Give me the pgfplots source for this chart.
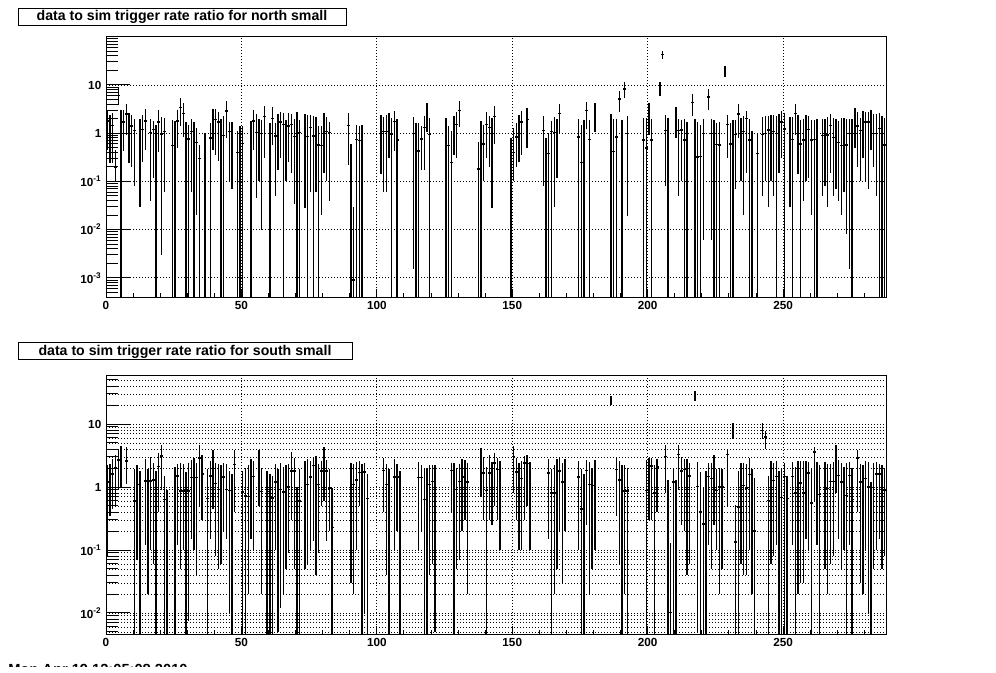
\documentclass[border=0pt]{standalone}
\usepackage{pgfplots}
\usepackage{pgfplotstable}
\pgfplotsset{compat=1.18}
\usepackage{fontspec}
\setmainfont{Liberation Sans}

\pgfplotstableread{
x y l h
0.5 1.8 0.45 3.0
1.5 1.3 0.24 2.4
2.5 1.45 0.24 2.6
3.5 0.2 0.1 0.45
4.5 6.1 3.8 9.0
5.5 1.0 1e-6 3.0
6.5 1.7 0.42 3.0
7.5 2.5 0.9 4.0
8.5 1.45 0.24 2.6
9.5 1.4 0.2 2.4
10.5 1.15 0.08 2.0
12.5 1.0 0.03 2.0
13.5 1.2 0.25 2.4
14.5 1.8 0.45 3.2
16.5 1.05 0.04 2.0
17.5 1.2 0.12 1.8
18.5 0.97 1e-6 1.5
19.5 1.7 0.4 3.0
20.5 0.97 0.003 2.2
21.5 1.1 0.06 2.1
24.5 0.55 1e-6 1.9
25.5 0.92 1e-6 1.8
26.5 1.8 0.5 3.0
27.5 3.4 1.4 5.3
28.5 2.6 0.85 4.2
29.5 0.83 1e-6 1.7
30.5 0.76 1e-6 1.5
31.5 1.1 0.06 2.0
32.5 0.8 1e-6 1.7
33.5 0.65 0.02 1.3
34.5 0.3 1e-6 0.57
36.5 0.4 1e-6 1.0
38.5 0.8 1e-6 1.6
39.5 1.8 0.45 3.2
40.5 1.9 0.35 3.2
41.5 1.7 0.26 2.8
42.5 1.1 1e-6 2.0
43.5 0.9 1e-6 2.3
44.5 2.9 0.8 4.7
45.5 1.1 0.1 1.7
46.5 1.1 0.07 1.7
48.5 0.4 1e-6 1.1
49.5 0.57 1e-6 1.4
50.5 0.62 1e-6 1.4
53.5 0.88 1e-6 1.8
54.5 1.8 0.45 3.0
55.5 1.05 0.045 2.5
56.5 1.0 0.1 2.0
57.5 1.0 0.01 1.9
58.5 2.2 0.3 3.7
60.5 0.6 1e-6 1.6
61.5 2.0 0.58 3.5
62.5 0.88 0.05 1.6
63.5 1.2 0.17 2.5
64.5 1.7 0.3 2.8
65.5 1.5 1e-6 2.6
66.5 1.05 0.1 1.9
67.5 1.4 0.25 2.6
68.5 1.5 0.15 2.5
69.5 0.85 0.034 2.0
70.5 1.8 1e-6 2.8
71.5 1.05 1e-6 1.9
73.5 1.05 0.028 2.5
74.5 0.85 1e-6 2.4
75.5 1.3 0.06 2.4
76.5 0.88 1e-6 2.3
77.5 1.1 0.06 2.2
78.5 0.57 1e-6 1.4
79.5 0.55 0.02 1.4
80.5 1.5 0.15 2.6
81.5 1.1 0.1 2.2
82.5 1.05 0.04 1.7
89.5 1.45 0.22 2.6
90.5 0.35 1e-6 0.6
91.5 0.0009 1e-6 0.03
92.5 0.75 1e-6 1.5
93.5 0.7 1e-6 1.4
94.5 0.7 1e-6 1.5
101.5 1.27 0.14 2.4
102.5 1.1 0.06 2.2
103.5 1.1 0.06 2.4
104.5 1.5 0.3 2.6
105.5 0.97 1e-6 2.1
106.5 1.75 0.42 2.9
107.5 0.72 1e-6 2.0
113.5 1.0 0.0015 2.2
114.5 0.6 1e-6 1.6
115.5 0.43 1e-6 1.6
116.5 0.76 0.17 1.4
117.5 1.3 0.17 2.3
118.5 2.7 1.08 4.2
119.5 0.95 1e-6 2.1
125.5 0.92 1e-6 2.1
126.5 0.55 1e-6 1.4
127.5 0.25 1e-6 1.1
128.5 1.7 0.35 2.3
129.5 1.5 0.3 2.7
130.5 3.0 1.37 4.7
137.5 0.18 1e-6 0.65
138.5 0.59 1e-6 1.8
139.5 0.6 0.1 1.5
140.5 1.5 0.3 2.7
141.5 1.3 0.2 2.3
142.5 1.05 0.028 2.1
143.5 2.2 0.6 3.6
149.5 0.21 1e-6 0.8
150.5 0.4 0.1 1.3
151.5 0.83 0.2 1.6
152.5 1.4 0.25 2.4
153.5 1.7 0.35 2.9
155.5 1.9 0.5 3.3
161.5 1.13 0.08 2.3
162.5 0.3 1e-6 0.8
163.5 0.38 1e-6 1.0
164.5 1.1 1e-6 1.8
165.5 1.05 0.03 2.2
166.5 1.13 0.12 2.0
167.5 2.6 0.95 4.0
174.5 0.83 1e-6 2.0
175.5 0.25 1e-6 1.5
176.5 0.45 1e-6 1.9
177.5 3.0 1.2 4.5
178.5 0.75 1e-6 1.9
180.5 2.8 1.05 4.3
186.5 1.6 1e-6 2.5
187.5 0.42 1e-6 2.0
188.5 0.83 1e-6 2.0
189.5 5.1 2.8 7.5
190.5 0.7 1e-6 1.9
191.5 8.3 5.3 11.7
192.5 1.0 0.019 2.3
198.5 0.72 1e-6 2.1
199.5 0.49 1e-6 2.1
200.5 2.6 0.9 4.2
201.5 0.72 1e-6 2.0
204.5 8.9 5.9 11.7
205.5 43 34 50
206.5 1.13 0.08 2.4
207.5 0.65 1e-6 2.1
210.5 2.3 0.8 3.5
211.5 1.13 0.05 2.0
212.5 1.17 0.1 1.9
213.5 0.72 1e-6 2.0
214.5 0.6 1e-6 1.7
216.5 4.4 2.3 6.4
217.5 0.95 1e-6 2.0
218.5 0.32 1e-6 1.7
219.5 0.33 1e-6 1.5
220.5 1.0 0.006 2.0
222.5 5.6 3.0 8.2
223.5 1.0 0.006 2.0
224.5 0.65 1e-6 1.9
225.5 0.59 1e-6 1.6
226.5 0.57 1e-6 1.7
228.5 19.5 15 25
229.5 1.5 0.3 2.4
230.5 0.6 1e-6 1.6
231.5 0.43 1e-6 1.9
232.5 0.95 0.07 1.9
233.5 2.5 0.8 4.0
234.5 0.83 0.1 2.1
235.5 1.1 0.02 2.3
236.5 2.0 0.15 2.9
237.5 0.72 1e-6 2.0
238.5 0.25 1e-6 1.1
240.5 0.38 1e-6 1.0
242.5 0.95 0.05 2.2
243.5 1.0 0.1 2.3
244.5 1.17 0.03 2.3
245.5 0.8 0.1 2.4
246.5 1.1 0.05 2.4
247.5 1.0 1e-6 2.3
248.5 1.23 0.15 2.5
249.5 1.7 0.3 2.9
250.5 1.23 1e-6 2.6
252.5 1.03 0.03 2.2
253.5 0.75 1e-6 2.2
254.5 2.6 0.9 4.0
255.5 1.27 0.14 2.4
256.5 0.6 1e-6 1.9
257.5 0.72 0.04 2.0
258.5 1.17 0.1 2.4
259.5 1.2 0.12 2.3
260.5 0.72 0.02 1.9
261.5 0.75 1e-6 1.9
262.5 0.75 1e-6 2.0
264.5 0.9 0.05 2.0
265.5 0.92 0.08 2.0
266.5 0.92 0.03 2.2
267.5 1.45 0.15 2.5
268.5 0.82 0.05 2.1
269.5 0.83 0.07 2.0
270.5 0.64 0.04 1.8
271.5 0.55 0.02 2.1
272.5 1.05 0.06 2.1
273.5 0.57 0.008 2.0
274.5 1.0 0.0015 2.0
275.5 1.0 1e-6 2.0
276.5 2.1 0.5 3.3
277.5 1.42 0.2 2.8
278.5 1.13 0.1 2.1
279.5 1.7 0.3 2.9
280.5 1.7 0.1 2.8
281.5 1.7 0.07 2.7
282.5 1.8 0.45 3.0
283.5 1.0 0.2 2.5
284.5 1.0 0.05 2.5
285.5 1.27 1e-6 2.6
286.5 0.57 1e-6 2.3
287.5 0.57 1e-6 2.1
}\topdata

\pgfplotstableread{
x y l h
0.5 1.2 0.08 2.2
1.5 1.15 0.35 2.3
2.5 1.6 0.45 2.8
3.5 2.0 0.5 3.2
4.5 2.7 0.9 3.8
5.5 2.8 1.0 4.5
7.5 2.6 1.1 4.3
10.5 0.6 1e-6 1.9
11.5 1.1 0.07 2.2
12.5 0.6 1e-6 1.8
14.5 1.25 0.12 2.8
15.5 0.85 0.02 1.9
16.5 1.25 0.1 3.0
17.5 1.3 0.06 2.4
18.5 0.6 1e-6 1.8
19.5 2.1 0.4 3.5
20.5 3.1 0.9 4.7
21.5 0.63 1e-6 1.5
22.5 0.37 1e-6 0.9
25.5 0.83 1e-6 2.1
26.5 1.5 0.12 2.3
27.5 0.86 0.05 2.4
28.5 0.86 0.1 2.3
29.5 0.53 1e-6 1.7
30.5 0.86 0.0075 2.4
31.5 1.4 0.15 2.7
32.5 1.6 0.1 2.9
33.5 1.4 0.04 2.4
34.5 2.9 0.5 4.7
35.5 1.6 0.3 3.2
37.5 0.65 1e-6 1.9
38.5 1.5 0.15 2.6
39.5 2.15 0.45 3.8
40.5 1.13 0.08 2.4
41.5 0.92 0.05 2.3
42.5 0.92 0.06 2.2
43.5 1.45 0.2 2.4
44.5 0.92 0.15 2.3
45.5 0.88 0.01 1.8
46.5 0.63 1e-6 1.6
47.5 2.3 0.4 3.8
50.5 0.83 1e-6 1.8
51.5 0.72 1e-6 2.0
52.5 0.7 0.02 2.2
53.5 1.48 0.15 2.8
54.5 1.48 0.1 2.6
56.5 2.4 0.5 3.9
57.5 0.85 0.02 2.0
59.5 0.85 1e-6 1.8
60.5 0.44 1e-6 1.6
61.5 0.67 1e-6 1.5
62.5 1.2 0.1 2.3
63.5 1.2 0.005 1.9
64.5 0.92 0.012 2.4
65.5 0.83 0.02 2.1
66.5 0.85 0.05 2.2
67.5 1.0 0.09 2.3
68.5 1.8 0.3 3.6
69.5 1.8 0.05 2.9
70.5 0.45 1e-6 1.0
71.5 0.6 1e-6 1.9
73.5 1.27 0.05 2.6
74.5 1.1 0.06 2.8
75.5 1.45 0.1 2.6
76.5 2.2 0.14 3.0
77.5 1.35 0.04 3.1
78.5 1.1 0.09 2.3
79.5 1.8 0.5 2.6
80.5 2.65 0.6 4.3
81.5 1.8 0.14 2.7
82.5 0.97 0.2 1.9
83.5 0.23 1e-6 0.95
90.5 1.3 0.03 2.4
91.5 1.1 0.02 2.3
92.5 1.3 0.1 2.5
93.5 1.7 0.5 2.6
94.5 1.0 1e-6 2.3
95.5 1.73 0.01 2.4
96.5 0.65 1e-6 1.6
102.5 1.84 0.4 2.9
103.5 1.1 0.04 2.3
104.5 0.78 1e-6 1.9
106.5 1.44 0.1 2.8
107.5 1.44 0.2 2.3
108.5 0.68 1e-6 1.8
115.5 1.4 0.1 2.5
116.5 1.4 0.2 2.2
117.5 0.63 1e-6 2.0
118.5 0.74 1e-6 2.0
119.5 1.1 0.04 2.2
120.5 1.23 0.06 2.2
121.5 1.03 0.005 2.2
127.5 1.84 0.4 2.4
128.5 0.88 1e-6 2.4
129.5 0.92 0.05 2.0
130.5 1.23 0.07 2.3
131.5 1.44 0.2 2.8
132.5 1.95 0.3 2.7
133.5 1.2 0.02 2.4
138.5 2.8 0.7 4.2
139.5 1.67 0.3 3.0
140.5 0.88 1e-6 2.1
141.5 1.67 0.3 3.2
142.5 1.67 0.25 2.5
143.5 2.4 0.5 3.5
144.5 1.9 0.3 2.9
145.5 1.44 0.1 2.6
150.5 3.06 0.8 4.4
151.5 1.73 0.3 2.9
152.5 0.78 0.1 2.4
153.5 1.36 0.1 2.6
154.5 2.4 0.3 3.1
155.5 2.35 0.5 3.2
156.5 1.67 0.1 2.5
163.5 1.67 0.15 2.8
164.5 0.8 1e-6 1.9
165.5 0.8 0.02 2.2
166.5 1.1 0.05 2.8
167.5 1.8 0.2 2.9
168.5 1.2 0.03 2.4
169.5 1.67 0.2 2.8
174.5 1.44 0.1 2.6
175.5 0.45 1e-6 1.9
176.5 0.8 1e-6 1.6
177.5 1.84 0.25 2.7
178.5 1.1 0.02 2.5
179.5 1.05 0.05 2.0
180.5 1.6 0.1 2.7
186.5 23.6 19.7 28
188.5 1.9 0.35 3.0
189.5 1.3 0.06 2.6
190.5 0.86 1e-6 2.2
191.5 0.86 0.02 2.2
192.5 0.86 1e-6 2.0
199.5 0.88 1e-6 2.7
200.5 2.07 0.3 2.9
201.5 2.15 0.3 2.9
202.5 0.8 1e-6 2.2
203.5 2.07 0.4 2.8
206.5 3.06 0.8 4.7
207.5 0.6 1e-6 1.3
208.5 0.0101 1e-6 0.13
209.5 1.2 1e-6 2.0
210.5 0.76 1e-6 1.3
211.5 3.26 0.9 4.7
212.5 1.8 0.25 3.0
213.5 1.9 0.2 2.8
214.5 1.5 0.04 2.8
215.5 1.5 0.06 2.4
217.5 27.8 23 33
218.5 1.02 0.005 2.5
219.5 0.4 1e-6 1.7
220.5 0.26 1e-6 1.0
221.5 0.39 1e-6 1.8
222.5 1.48 0.12 2.4
223.5 1.36 0.05 2.4
224.5 2.0 0.25 3.2
225.5 0.88 0.1 1.9
226.5 1.0 0.02 2.0
227.5 1.0 0.05 1.9
229.5 3.26 0.5 4.0
231.5 7.9 5.8 10.3
232.5 0.134 1e-6 0.52
233.5 0.48 1e-6 1.8
234.5 0.78 0.06 2.4
235.5 1.06 0.04 2.4
236.5 0.96 0.04 2.3
237.5 1.57 0.1 2.9
238.5 0.67 0.02 1.9
239.5 0.2 1e-6 1.4
242.5 7.9 5.8 10.3
243.5 6.2 4.0 7.8
244.5 0.61 1e-6 1.5
245.5 1.23 0.06 2.6
246.5 1.27 0.08 2.4
247.5 1.48 0.12 2.6
248.5 0.56 1e-6 1.8
249.5 0.68 1e-6 1.9
250.5 1.48 1e-6 2.4
251.5 0.65 1e-6 1.5
253.5 1.48 0.12 2.5
254.5 0.8 1e-6 2.1
255.5 0.98 0.02 2.6
256.5 1.16 0.03 2.6
257.5 0.8 0.03 2.6
258.5 1.63 0.15 2.6
259.5 1.67 0.1 2.5
260.5 0.56 1e-6 1.9
261.5 3.6 0.6 4.3
262.5 1.44 0.12 2.5
263.5 0.76 1e-6 2.2
265.5 0.98 0.05 2.5
266.5 0.94 0.02 2.3
267.5 1.23 0.06 2.3
268.5 1.23 0.08 2.5
269.5 3.46 0.8 4.7
270.5 1.53 0.15 2.7
271.5 1.2 0.05 2.4
272.5 1.27 0.1 2.1
273.5 0.74 1e-6 2.4
274.5 1.53 0.12 2.5
275.5 0.63 1e-6 2.0
277.5 2.9 0.4 3.9
278.5 1.2 0.03 2.3
279.5 0.86 0.02 2.2
280.5 1.36 0.1 2.6
281.5 1.0 0.01 2.5
282.5 0.35 1e-6 1.2
283.5 0.98 0.05 2.4
284.5 1.6 0.1 2.5
285.5 1.6 0.15 2.3
286.5 1.06 0.05 2.2
287.5 0.9 0.08 2.0
}\botdata

\begin{document}
\begin{tikzpicture}
\clip (0,0) rectangle (747pt,504pt);
\fill[white] (0,0) rectangle (747pt,504pt);

\begin{axis}[at={(79.5pt,281.25pt)}, anchor=south west,
  scale only axis, width=585pt, height=195pt,
  xmin=0, xmax=288, ymode=log, ymin=4e-4, ymax=99,
  axis line style={line width=0.75pt},
  tick pos=left, tick align=inside,
  major tick length=6pt, minor tick length=3pt,
  xtick style={/pgfplots/major tick length=6pt, /pgfplots/minor tick length=3pt},
  ytick style={/pgfplots/major tick length=18pt, /pgfplots/minor tick length=9pt},
  every tick/.append style={black, line width=0.75pt},
  xtick={0,50,100,150,200,250},
  xticklabels={0,50,100,150,200,250},
  minor xtick={10,20,...,280},
  ytick={1e-3,1e-2,1e-1,1,10},
  yticklabels={10\textsuperscript{-3},10\textsuperscript{-2},10\textsuperscript{-1},1,10},
  minor ytick={5e-4,6e-4,7e-4,8e-4,9e-4,2e-3,3e-3,4e-3,5e-3,6e-3,7e-3,8e-3,9e-3,
    0.02,0.03,0.04,0.05,0.06,0.07,0.08,0.09,0.2,0.3,0.4,0.5,0.6,0.7,0.8,0.9,
    2,3,4,5,6,7,8,9,20,30,40,50,60,70,80,90},
  tick label style={font=\fontsize{8.8}{10}\selectfont\bfseries},
  xmajorgrids, ymajorgrids,
  major grid style={black, line width=0.6pt, dash pattern=on 0.75pt off 1.5pt}]
\addplot[draw=none, mark=none, forget plot,
  error bars/x dir=both, error bars/x explicit,
  error bars/y dir=both, error bars/y explicit,
  error bars/error mark=none,
  error bars/error bar style={draw=black, line width=1pt, solid}]
  table[x=x, y=y, x error expr=0.5,
  y error plus expr=\thisrow{h}-\thisrow{y}, y error minus expr=\thisrow{y}-\thisrow{l}] {\topdata};
\end{axis}

\begin{axis}[at={(79.5pt,28.5pt)}, anchor=south west,
  scale only axis, width=585pt, height=194.25pt,
  xmin=0, xmax=288, ymode=log, ymin=4.64e-3, ymax=60,
  axis line style={line width=0.75pt},
  tick pos=left, tick align=inside,
  major tick length=6pt, minor tick length=3pt,
  xtick style={/pgfplots/major tick length=6pt, /pgfplots/minor tick length=3pt},
  ytick style={/pgfplots/major tick length=18pt, /pgfplots/minor tick length=9pt},
  every tick/.append style={black, line width=0.75pt},
  xtick={0,50,100,150,200,250},
  xticklabels={0,50,100,150,200,250},
  minor xtick={10,20,...,280},
  ytick={1e-2,1e-1,1,10},
  yticklabels={10\textsuperscript{-2},10\textsuperscript{-1},1,10},
  minor ytick={5e-3,6e-3,7e-3,8e-3,9e-3,
    0.02,0.03,0.04,0.05,0.06,0.07,0.08,0.09,0.2,0.3,0.4,0.5,0.6,0.7,0.8,0.9,
    2,3,4,5,6,7,8,9,20,30,40,50,60},
  tick label style={font=\fontsize{8.8}{10}\selectfont\bfseries},
  xmajorgrids, ymajorgrids, yminorgrids,
  major grid style={black, line width=0.6pt, dash pattern=on 0.75pt off 1.5pt},
  minor grid style={black, line width=0.6pt, dash pattern=on 0.75pt off 1.5pt}]
\addplot[draw=none, mark=none, forget plot,
  error bars/x dir=both, error bars/x explicit,
  error bars/y dir=both, error bars/y explicit,
  error bars/error mark=none,
  error bars/error bar style={draw=black, line width=1pt, solid}]
  table[x=x, y=y, x error expr=0.5,
  y error plus expr=\thisrow{h}-\thisrow{y}, y error minus expr=\thisrow{y}-\thisrow{l}] {\botdata};
\end{axis}

\node[draw, line width=0.75pt, fill=white, minimum width=246pt, minimum height=12.75pt, inner sep=0pt]
  at (136.5pt,491.6pt) {\fontsize{10.6}{12}\selectfont\bfseries data to sim trigger rate ratio for north small};
\node[draw, line width=0.75pt, fill=white, minimum width=250.5pt, minimum height=12.75pt, inner sep=0pt]
  at (138.75pt,240.4pt) {\fontsize{10.6}{12}\selectfont\bfseries data to sim trigger rate ratio for south small};
\node[anchor=base west, inner sep=0pt] at (6pt,-1.5pt) {\fontsize{11}{12}\selectfont\bfseries Mon Apr 19 12:05:08 2010};
\fill[white] (0,-5pt) rectangle (747pt,3.75pt);
\end{tikzpicture}
\end{document}
